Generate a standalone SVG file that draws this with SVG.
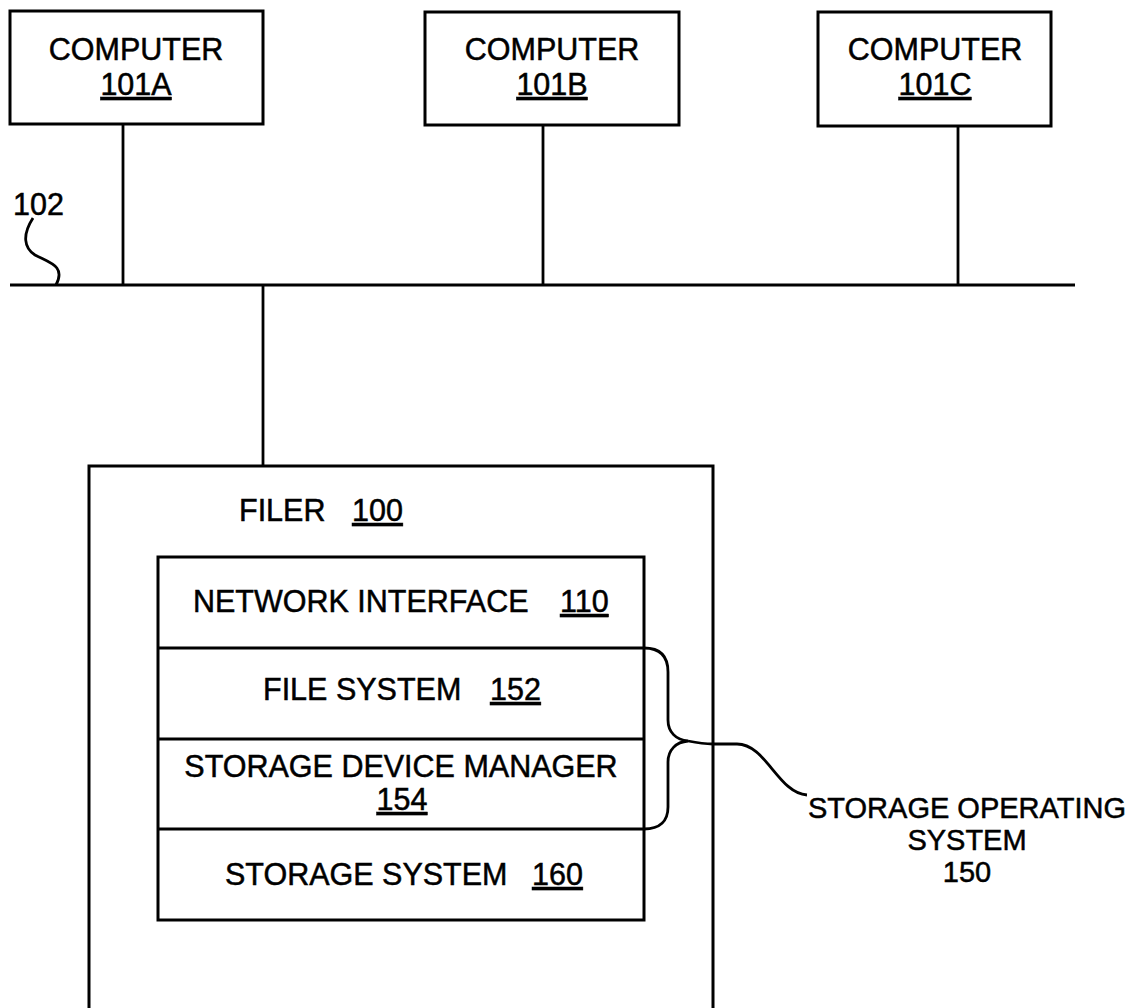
<svg xmlns="http://www.w3.org/2000/svg" width="1129" height="1008" viewBox="0 0 1129 1008">
  <style>
    .box { fill: #ffffff; stroke: #000000; stroke-width: 3; }
    .line { fill: none; stroke: #000000; stroke-width: 2.8; }
    .lbl { font-family: "Liberation Sans", Arial, sans-serif; font-size: 30.5px; fill: #000000; stroke: #000000; stroke-width: 0.5; }
    .mid { text-anchor: middle; }
    .ref { text-decoration: underline; }
    .side { font-size: 29px; }
  </style>
  <rect width="1129" height="1008" fill="#ffffff"/>

  <g id="bus-label">
    <text class="lbl" x="13" y="215">102</text>
  </g>

  <g id="computer-101a">
    <rect class="box" x="10" y="11" width="253" height="113"/>
    <text class="lbl mid" x="136" y="60">COMPUTER</text>
    <text class="lbl mid ref" x="136" y="95">101A</text>
  </g>

  <g id="computer-101b">
    <rect class="box" x="425" y="12" width="254" height="113"/>
    <text class="lbl mid" x="552" y="60">COMPUTER</text>
    <text class="lbl mid ref" x="552" y="95">101B</text>
  </g>

  <g id="computer-101c">
    <rect class="box" x="818" y="12" width="233" height="114"/>
    <text class="lbl mid" x="935" y="60">COMPUTER</text>
    <text class="lbl mid ref" x="935" y="95">101C</text>
  </g>

  <g id="filer-100">
    <path class="box" d="M89,1012 V466 H713 V1012"/>
    <text class="lbl" x="239" y="521">FILER</text>
    <text class="lbl ref" x="352" y="521">100</text>
  </g>

  <g id="stack">
    <rect class="box" x="158" y="557" width="486" height="363"/>
    <line class="line" x1="158" y1="648" x2="644" y2="648"/>
    <line class="line" x1="158" y1="739" x2="644" y2="739"/>
    <line class="line" x1="158" y1="829" x2="644" y2="829"/>
  </g>

  <g id="network-interface-110">
    <text class="lbl" x="193" y="612">NETWORK INTERFACE</text>
    <text class="lbl ref" x="560" y="612">110</text>
  </g>

  <g id="file-system-152">
    <text class="lbl" x="263" y="700">FILE SYSTEM</text>
    <text class="lbl ref" x="490" y="700">152</text>
  </g>

  <g id="storage-device-manager-154">
    <text class="lbl mid" x="401" y="777">STORAGE DEVICE MANAGER</text>
    <text class="lbl mid ref" x="402" y="810">154</text>
  </g>

  <g id="storage-system-160">
    <text class="lbl" x="225" y="885">STORAGE SYSTEM</text>
    <text class="lbl ref" x="532" y="885">160</text>
  </g>

  <g id="storage-operating-system-150">
    <text class="lbl side mid" x="967" y="818">STORAGE OPERATING</text>
    <text class="lbl side mid" x="967" y="850">SYSTEM</text>
    <text class="lbl side mid" x="967" y="882">150</text>
  </g>

  <!-- network bus, drops, label leader and the bracket -->
  <g id="connectors">
    <line class="line" x1="10" y1="285" x2="1075" y2="285"/>
    <line class="line" x1="123" y1="124" x2="123" y2="285"/>
    <line class="line" x1="543" y1="125" x2="543" y2="285"/>
    <line class="line" x1="958" y1="126" x2="958" y2="285"/>
    <line class="line" x1="263" y1="285" x2="263" y2="466"/>
    <path class="line" d="M33,218 C22,235 24,248 35,255 C50,263 66,266 56,285"/>
    <path class="line" d="M644,648 C660,648 668,656 668,672 L668,720 C668,732 676,740 688,741 C676,742 668,750 668,762 L668,807 C668,821 660,829 644,829"/>
    <path class="line" d="M688,741 C698,743 705,744 713,744 L737,744 C766,744 778,793 807,795"/>
  </g>
</svg>
